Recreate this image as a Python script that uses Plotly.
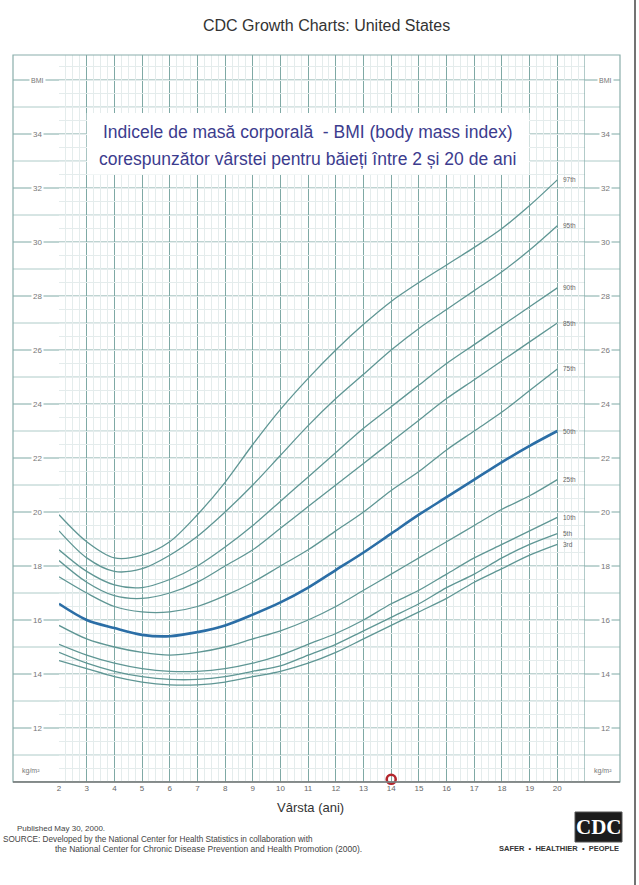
import plotly.graph_objects as go

# Ages (years) and BMI-for-age percentile values for boys
ages = list(range(2, 21))

p97 = [19.9, 18.9, 18.3, 18.4, 18.9, 19.9, 21.1, 22.5, 23.8, 24.95, 26.0, 26.95, 27.8, 28.5, 29.15, 29.8, 30.5, 31.35, 32.3]
p95 = [19.3, 18.3, 17.8, 17.9, 18.4, 19.1, 20.0, 21.0, 22.1, 23.2, 24.2, 25.1, 26.0, 26.8, 27.5, 28.2, 28.9, 29.7, 30.6]
p90 = [18.6, 17.8, 17.3, 17.2, 17.5, 18.0, 18.7, 19.5, 20.4, 21.3, 22.2, 23.1, 23.9, 24.7, 25.5, 26.2, 26.9, 27.6, 28.3]
p85 = [18.2, 17.4, 16.9, 16.8, 17.0, 17.4, 18.0, 18.6, 19.4, 20.2, 21.0, 21.8, 22.6, 23.4, 24.2, 24.9, 25.6, 26.3, 27.0]
p75 = [17.6, 17.0, 16.5, 16.3, 16.3, 16.5, 16.9, 17.4, 18.0, 18.6, 19.3, 20.0, 20.8, 21.5, 22.3, 23.0, 23.7, 24.5, 25.3]
p50 = [16.6, 16.0, 15.7, 15.45, 15.4, 15.55, 15.8, 16.2, 16.65, 17.2, 17.85, 18.5, 19.2, 19.9, 20.55, 21.2, 21.85, 22.45, 23.0]
p25 = [15.8, 15.3, 15.0, 14.8, 14.7, 14.8, 15.0, 15.3, 15.6, 16.0, 16.5, 17.1, 17.7, 18.3, 18.9, 19.5, 20.1, 20.6, 21.2]
p10 = [15.1, 14.7, 14.4, 14.2, 14.1, 14.1, 14.2, 14.4, 14.7, 15.1, 15.5, 16.0, 16.6, 17.1, 17.7, 18.3, 18.8, 19.3, 19.8]
p5 = [14.8, 14.4, 14.1, 13.9, 13.8, 13.8, 13.9, 14.1, 14.3, 14.7, 15.1, 15.6, 16.1, 16.6, 17.2, 17.7, 18.3, 18.8, 19.2]
p3 = [14.5, 14.2, 13.9, 13.7, 13.6, 13.6, 13.7, 13.9, 14.1, 14.4, 14.8, 15.3, 15.8, 16.3, 16.8, 17.4, 17.9, 18.4, 18.8]

series = [
    ("97th", p97), ("95th", p95), ("90th", p90), ("85th", p85), ("75th", p75),
    ("50th", p50), ("25th", p25), ("10th", p10), ("5th", p5), ("3rd", p3),
]

bmi_ticks = list(range(12, 35, 2))
marked_age = 14

W, H = 639, 885
ML, MR, MT, MB = 59, 54, 55, 103
PW, PH = W - ML - MR, H - MT - MB


def px(x):
    return (x - ML) / PW


def py(y):
    return (H - MB - y) / PH


FRAME_L, FRAME_R = px(13), px(620)
MAJOR = "#7fa9a5"
MID = "#aecbc8"
FAINT = "#e4ecec"
CURVE = "#5f9694"
FONT = "Liberation Sans, Arial, sans-serif"

fig = go.Figure()

for name, vals in series:
    is_median = name == "50th"
    fig.add_trace(go.Scatter(
        x=ages, y=vals, mode="lines", name=name, showlegend=False, hoverinfo="skip",
        line=dict(color="#2b6ea6" if is_median else CURVE,
                  width=2.6 if is_median else 1.3, shape="spline", smoothing=0.9),
    ))

# marker on the age axis
fig.add_trace(go.Scatter(
    x=[marked_age], y=[10.1], mode="markers", showlegend=False, hoverinfo="skip",
    cliponaxis=False,
    marker=dict(symbol="circle-open", size=9, color="#b3262d", line=dict(width=2.6, color="#b3262d")),
))

shapes = []
# horizontal BMI lines, running across the whole frame
for v in range(10, 37):
    shapes.append(dict(type="line", xref="paper", yref="y", x0=FRAME_L, x1=FRAME_R, y0=v, y1=v,
                       line=dict(color=MAJOR if v % 2 == 0 else MID, width=1), layer="between"))
# white box behind the inner heading
shapes.append(dict(type="rect", xref="x", yref="y", x0=3.0, x1=19.0, y0=32.5, y1=34.78,
                   fillcolor="white", line=dict(width=0), layer="above"))
# frame
shapes.append(dict(type="rect", xref="paper", yref="paper", x0=FRAME_L, x1=FRAME_R, y0=0, y1=1,
                   line=dict(color="#8aaeab", width=1.2), layer="above"))
shapes.append(dict(type="line", xref="x", yref="paper", x0=21, x1=21, y0=0, y1=1,
                   line=dict(color=MAJOR, width=1.2), layer="above"))
shapes.append(dict(type="line", xref="paper", yref="paper", x0=FRAME_L, x1=FRAME_R, y0=0, y1=0,
                   line=dict(color="#777777", width=1.4), layer="above"))
# right page edge
shapes.append(dict(type="line", xref="paper", yref="paper", x0=px(635), x1=px(635), y0=py(0), y1=py(H),
                   line=dict(color="#444444", width=1.5), layer="above"))
# CDC logo block
shapes.append(dict(type="rect", xref="paper", yref="paper", x0=px(575), x1=px(622), y0=py(842), y1=py(812),
                   fillcolor="#1c1c1c", line=dict(color="#555555", width=1), layer="above"))

annotations = []


def note(x, y, text, size, color="#444444", xref="paper", yref="paper", xanchor="center", family=FONT, **kw):
    annotations.append(dict(x=x, y=y, xref=xref, yref=yref, text=text, showarrow=False,
                            xanchor=xanchor, yanchor="middle",
                            font=dict(family=family, size=size, color=color), **kw))


# BMI labels on both sides
for v in bmi_ticks:
    for xp in (px(37), px(605)):
        note(xp, v, str(v), 8, "#777777", yref="y", bgcolor="white", borderpad=1)
for xp in (px(37), px(605)):
    note(xp, 36, "BMI", 7, "#777777", yref="y", bgcolor="white", borderpad=1)
note(px(31), 10.4, "kg/m²", 7, "#777777", yref="y")
note(px(603), 10.4, "kg/m²", 7, "#777777", yref="y")

# percentile labels at the curve ends
for name, vals in series:
    note(20.15, vals[-1], name, 6.5, "#666666", xref="x", yref="y", xanchor="left")

# inner heading
note(10.96, 34.09, "Indicele de masă corporală\u00a0 - BMI (body mass index)", 17.5, "#3c3c8e",
     xref="x", yref="y")
note(10.96, 33.07, "corespunzător vârstei pentru băieți între 2 și 20 de ani", 17.5, "#3c3c8e",
     xref="x", yref="y")

# page title, axis title, footer
note(px(326), py(25), "CDC Growth Charts: United States", 16, "#333333")
note(px(310), py(807), "Vârsta (ani)", 13, "#333333")
note(px(15), py(828), "Published May 30, 2000.", 8, xanchor="left")
note(px(1), py(839), "SOURCE: Developed by the National Center for Health Statistics in collaboration with",
     8.2, xanchor="left")
note(px(53), py(849), "the National Center for Chronic Disease Prevention and Health Promotion (2000).",
     8.5, xanchor="left")
note(px(598.5), py(827), "<b>CDC</b>", 21, "white", family="Liberation Serif, serif")
note(px(559), py(848),
     "<b>SAFER\u00a0\u00a0•\u00a0\u00a0HEALTHIER\u00a0\u00a0•\u00a0\u00a0PEOPLE</b>", 7.5, "#333333")

fig.update_layout(
    width=W, height=H,
    margin=dict(l=ML, r=MR, t=MT, b=MB),
    paper_bgcolor="white", plot_bgcolor="white",
    shapes=shapes, annotations=annotations,
    xaxis=dict(range=[2, 21], tickmode="array", tickvals=ages, ticktext=[str(a) for a in ages],
               showgrid=True, gridcolor=MAJOR, gridwidth=1, zeroline=False, showline=False,
               ticks="", tickfont=dict(family=FONT, size=8, color="#666666"),
               minor=dict(tickmode="linear", tick0=2, dtick=0.25, showgrid=True, gridcolor=FAINT)),
    yaxis=dict(range=[10, 10 + PH / 27.0], showgrid=True, dtick=0.5, tick0=10, gridcolor=FAINT,
               showticklabels=False, zeroline=False, showline=False, ticks=""),
)

fig.write_html("out.html")
